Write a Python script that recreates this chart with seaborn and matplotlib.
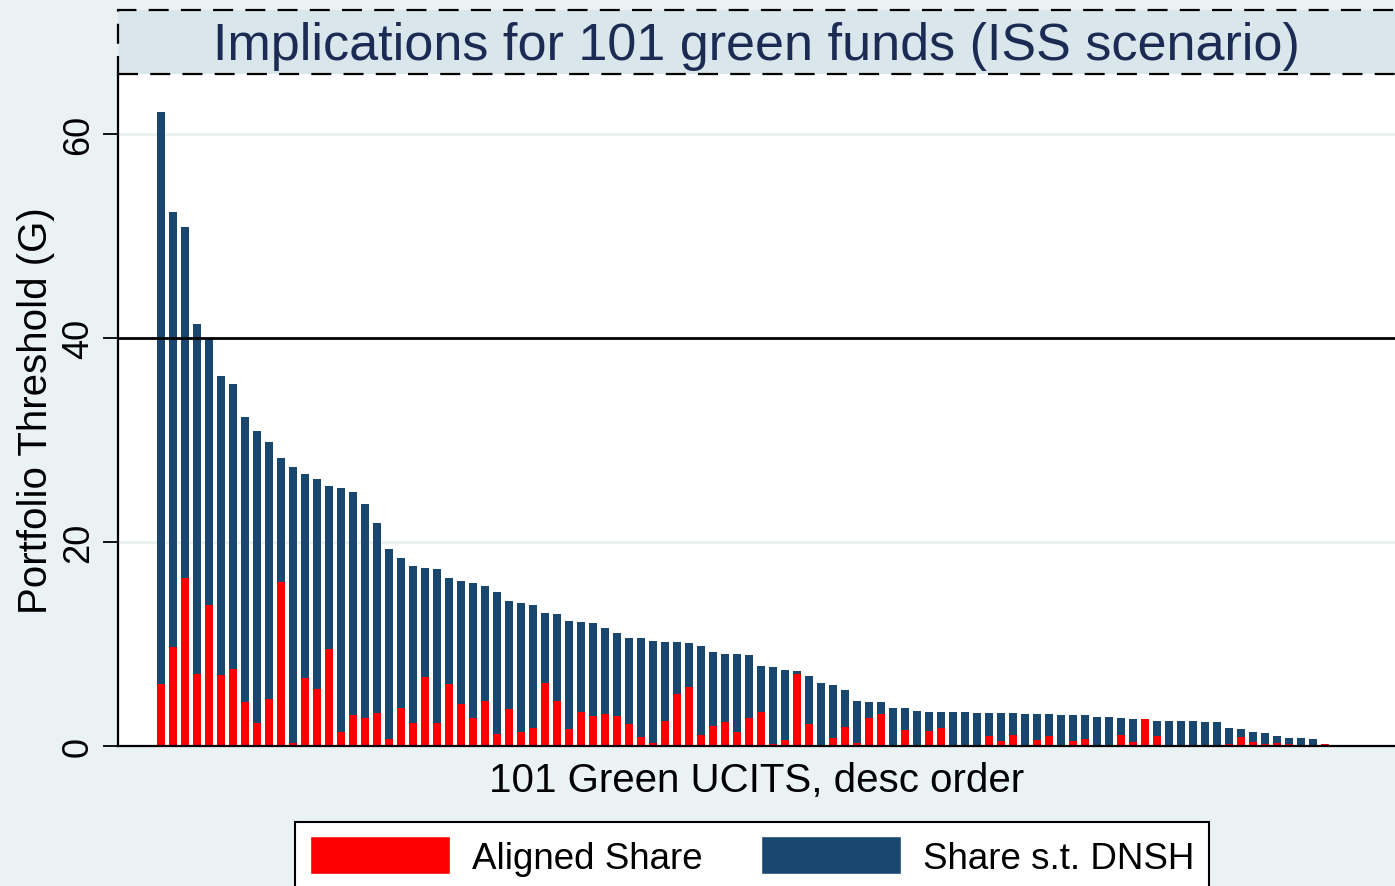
import matplotlib
matplotlib.use("Agg")
import matplotlib.pyplot as plt
import seaborn as sns
import pandas as pd
from matplotlib.patches import Rectangle, Patch

# portfolio threshold per fund (top of stacked bar), desc order
total = [62.2, 52.4, 50.9, 41.4, 40.0, 36.3, 35.5, 32.3, 30.9, 29.8,
         28.2, 27.4, 26.7, 26.2, 25.5, 25.3, 24.9, 23.7, 21.9, 19.3,
         18.4, 17.7, 17.5, 17.4, 16.5, 16.2, 16.0, 15.7, 15.1, 14.2,
         14.0, 13.8, 13.0, 12.9, 12.3, 12.2, 12.1, 11.6, 11.1, 10.6,
         10.6, 10.3, 10.2, 10.2, 10.1, 9.8, 9.2, 9.0, 9.0, 8.9,
         7.8, 7.7, 7.5, 7.4, 6.9, 6.2, 6.0, 5.5, 4.4, 4.3,
         4.3, 3.7, 3.7, 3.4, 3.3, 3.3, 3.3, 3.3, 3.2, 3.2,
         3.2, 3.2, 3.1, 3.1, 3.1, 3.0, 3.0, 3.0, 2.8, 2.8,
         2.7, 2.6, 2.6, 2.5, 2.5, 2.5, 2.5, 2.4, 2.4, 1.8,
         1.7, 1.4, 1.3, 1.0, 0.8, 0.8, 0.7, 0.2, 0.0, 0.0, 0.0]

# aligned share (red part)
aligned = [6.1, 9.7, 16.5, 7.1, 13.8, 7.0, 7.6, 4.3, 2.3, 4.6,
           16.1, 0.3, 6.7, 5.6, 9.5, 1.4, 3.0, 2.7, 3.2, 0.7,
           3.7, 2.3, 6.8, 2.3, 6.1, 4.1, 2.7, 4.4, 1.2, 3.6,
           1.4, 1.8, 6.2, 4.4, 1.7, 3.3, 2.9, 3.1, 2.9, 2.2,
           0.9, 0.3, 2.5, 5.1, 5.8, 1.1, 2.0, 2.4, 1.4, 2.7,
           3.3, 0.2, 0.6, 7.1, 2.2, 0.0, 0.8, 1.9, 0.3, 2.7,
           3.1, 0.1, 1.6, 0.0, 1.5, 1.8, 0.0, 0.1, 0.1, 1.0,
           0.5, 1.1, 0.1, 0.6, 1.0, 0.1, 0.5, 0.7, 0.0, 0.0,
           1.1, 0.4, 2.6, 1.0, 0.0, 0.0, 0.1, 0.1, 0.0, 0.2,
           0.9, 0.4, 0.2, 0.3, 0.2, 0.1, 0.0, 0.15, 0.0, 0.0, 0.0]

funds = list(range(1, 102))
yticks = [0, 20, 40, 60]

bg = "#EAF2F3"
navy = "#1A476F"
red = "#FF0000"

df = pd.DataFrame({"fund": funds, "total": total, "aligned": aligned})

sns.set_theme(style="white")
plt.rcParams["font.family"] = ["Liberation Sans", "DejaVu Sans"]
plt.rcParams["text.color"] = "black"
plt.rcParams["axes.labelcolor"] = "black"
plt.rcParams["ytick.color"] = "black"

fig = plt.figure(figsize=(13.95, 8.87), dpi=100, facecolor=bg)
ax = fig.add_axes([118/1395, 140/887, 1277/1395, 673/887])
ax.set_facecolor("white")

sns.barplot(data=df, x="fund", y="total", order=funds, color=navy, saturation=1,
            width=0.67, linewidth=0, errorbar=None, ax=ax, zorder=2)
sns.barplot(data=df, x="fund", y="aligned", order=funds, color=red, saturation=1,
            width=0.67, linewidth=0, errorbar=None, ax=ax, zorder=2)

for g in [20, 60]:
    ax.axhline(g, color=bg, lw=2.2, zorder=1)
ax.axhline(40, color="black", lw=2, zorder=3)

ax.set_xlim(-3.58, 102.83)
ax.set_ylim(0, 66)
ax.set_xticks([])
ax.set_yticks(yticks)
ax.set_yticklabels([str(t) for t in yticks], rotation=90, va="center", fontsize=26)
ax.tick_params(axis="y", left=True, length=11, width=1.3, pad=5, direction="out", colors="black")

for s in ["top", "right"]:
    ax.spines[s].set_visible(False)
for s in ["left", "bottom"]:
    ax.spines[s].set_color("black")
    ax.spines[s].set_linewidth(1.6)
    ax.spines[s].set_zorder(4)

ax.set_ylabel("Portfolio Threshold (G)", fontsize=29, labelpad=4, color="black")
ax.set_xlabel("101 Green UCITS, desc order", fontsize=29, labelpad=11, color="black")

# title box
fig.patches.append(Rectangle((118/1395, 1 - 75/887), 1.0, 64/887, transform=fig.transFigure,
                             facecolor="#D9E6EB", edgecolor="black", lw=1.6,
                             linestyle=(0, (9, 5.5)), zorder=0))
fig.text((118 + 1395) / 2 / 1395, 1 - 46.5/887, "Implications for 101 green funds (ISS scenario)",
         ha="center", va="center", fontsize=37.5, color="#1C2B53")

handles = [Patch(facecolor=red), Patch(facecolor=navy)]
leg = fig.legend(handles, ["Aligned Share", "Share s.t. DNSH"], loc="upper left",
                 bbox_to_anchor=(295/1395, 1 - 822.7/887), bbox_transform=fig.transFigure,
                 ncol=2, fontsize=26.5, frameon=True, fancybox=False, edgecolor="black",
                 framealpha=1, facecolor="white", handlelength=3.8, handleheight=1.2,
                 handletextpad=0.6, columnspacing=1.6, borderpad=0.4, borderaxespad=0,
                 labelcolor="black")
leg.get_frame().set_linewidth(1.5)

fig.savefig("out.png", dpi=100, facecolor=bg)
